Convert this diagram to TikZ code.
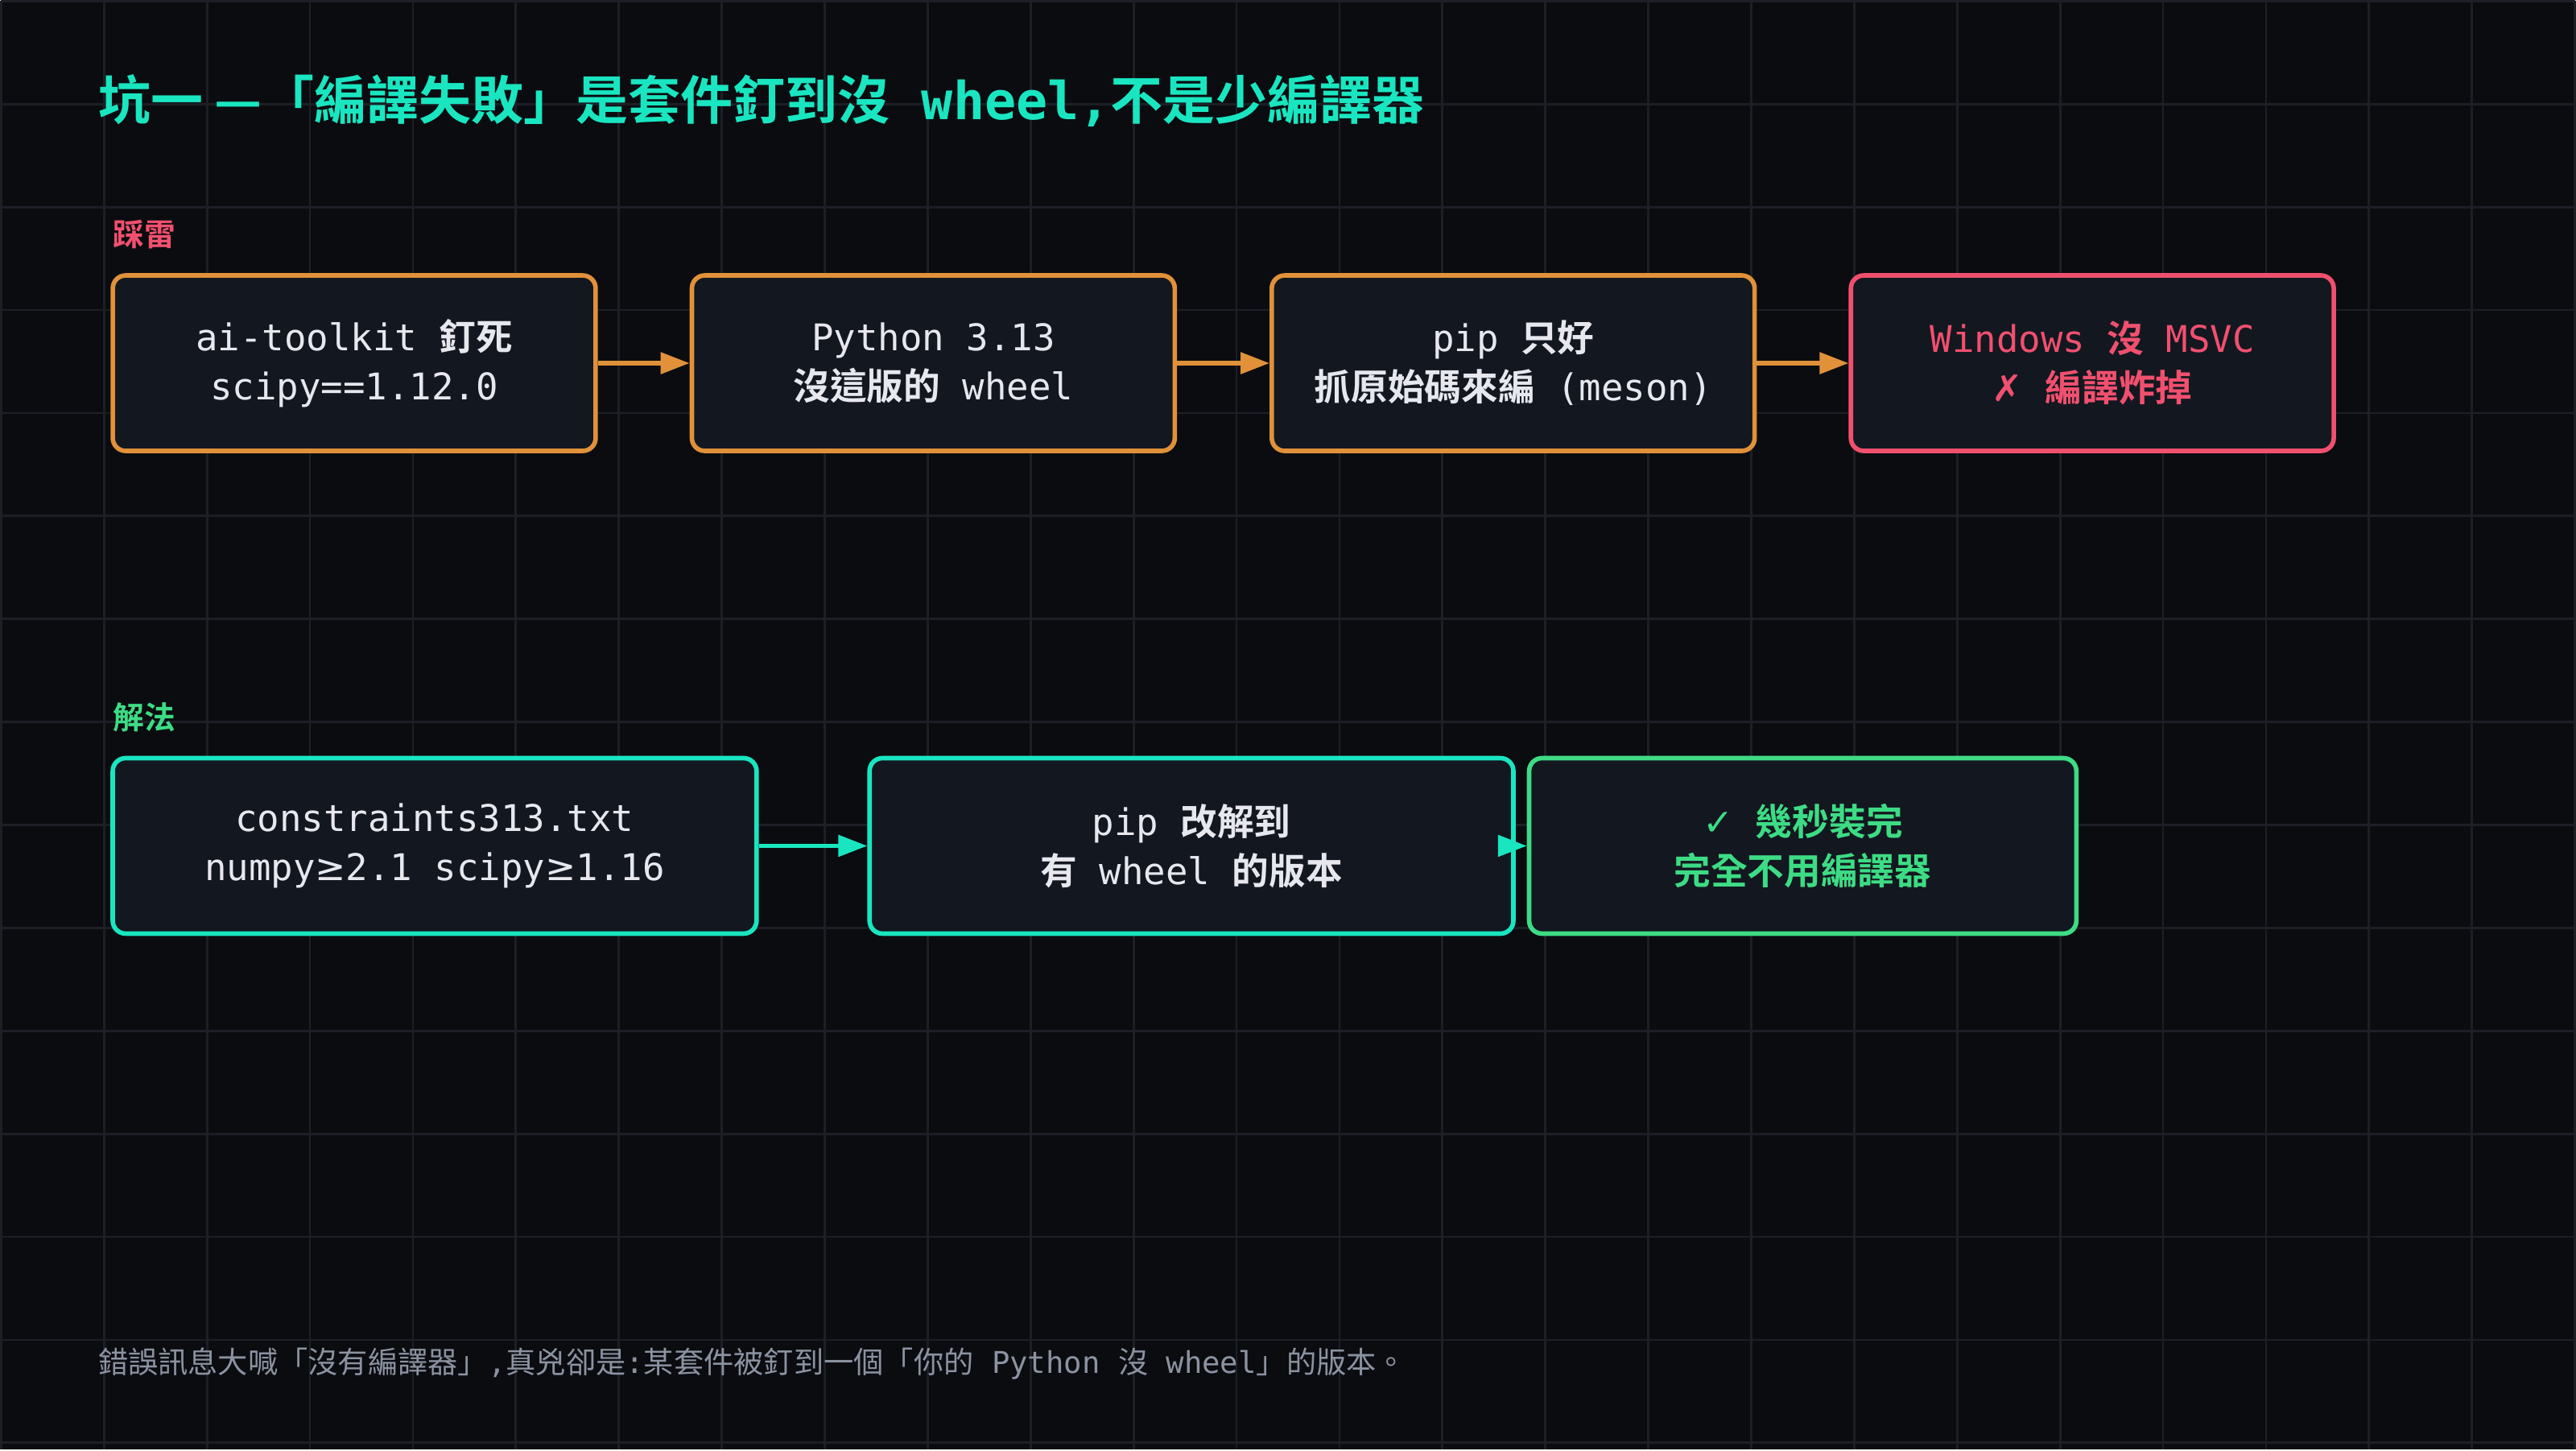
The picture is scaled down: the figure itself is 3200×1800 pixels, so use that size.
\documentclass[tikz,border=0pt]{standalone}
\usepackage{fontspec}
\setmainfont{DejaVu Sans Mono}
\newfontfamily\cjk{Noto Sans CJK TC}[BoldFont={* Bold}]
\newfontfamily\sym{DejaVu Sans}
\newcommand{\C}[1]{{\cjk\bfseries #1}}
\newcommand{\Cr}[1]{{\cjk #1}}
\definecolor{bg}{HTML}{0B0C10}
\definecolor{gridc}{HTML}{1C1F26}
\definecolor{boxf}{HTML}{131720}
\definecolor{org}{HTML}{E0913A}
\definecolor{redc}{HTML}{F0506E}
\definecolor{teal}{HTML}{19E6C1}
\definecolor{grn}{HTML}{3DDC84}
\definecolor{txt}{HTML}{E6E8EE}
\definecolor{gray}{HTML}{8B93A1}
\usetikzlibrary{arrows.meta}
\begin{document}
\begin{tikzpicture}[x=0.01cm,y=-0.01cm,
  box/.style={draw,line width=1.6pt,fill=boxf,rounded corners=0.16cm,minimum height=2.18cm,align=center,text=txt,font=\fontsize{13}{17.4}\selectfont,inner sep=0pt},
  arr/.style={line width=1.6pt,-{Triangle[length=0.36cm,width=0.26cm]}}]
\fill[bg] (0,0) rectangle (3200,1800);
\foreach \i in {0,...,25} \draw[gridc,line width=0.8pt] (\i*128,0) -- (\i*128,1800);
\foreach \j in {0,...,14} \draw[gridc,line width=0.8pt] (0,\j*128) -- (3200,\j*128);
\node[anchor=west,text=teal,font=\fontsize{18.5}{20}\selectfont\bfseries,inner sep=0] (title) at (120,124)
 {\C{坑一 —「編譯失敗」是套件釘到沒} wheel,\C{不是少編譯器}};
\node[anchor=west,text=redc,font=\fontsize{11}{12}\selectfont,inner sep=0] (l1) at (139,290) {\C{踩雷}};
\node[anchor=west,text=grn,font=\fontsize{11}{12}\selectfont,inner sep=0] (l2) at (139,890) {\C{解法}};
\node[box,draw=org,minimum width=6cm] (a1) at (439,450) {ai-toolkit \C{釘死}\\scipy==1.12.0};
\node[box,draw=org,minimum width=6cm] (a2) at (1159,450) {Python 3.13\\\C{沒這版的} wheel};
\node[box,draw=org,minimum width=6cm] (a3) at (1880,450) {pip \C{只好}\\\C{抓原始碼來編} (meson)};
\node[box,draw=redc,text=redc,minimum width=6cm] (a4) at (2600,450) {Windows \C{沒} MSVC\\{\sym ✗} \C{編譯炸掉}};
\draw[arr,org] (a1.east) -- (a2.west);
\draw[arr,org] (a2.east) -- (a3.west);
\draw[arr,org] (a3.east) -- (a4.west);
\node[box,draw=teal,minimum width=8cm] (b1) at (539,1050) {constraints313.txt\\numpy{\sym ≥}2.1 scipy{\sym ≥}1.16};
\node[box,draw=teal,minimum width=8cm] (b2) at (1480,1050) {pip \C{改解到}\\\C{有} wheel \C{的版本}};
\node[box,draw=grn,text=grn,minimum width=6.8cm] (b3) at (2240,1050) {{\sym ✓} \C{幾秒裝完}\\\C{完全不用編譯器}};
\draw[arr,teal] (b1.east) -- (b2.west);
\draw[arr,teal] (b2.east) -- (b3.west);
\node[anchor=west,text=gray,font=\fontsize{10.6}{12}\selectfont,inner sep=0] (foot) at (120,1694)
 {\Cr{錯誤訊息大喊「沒有編譯器」},\Cr{真兇卻是}:\Cr{某套件被釘到一個「你的} Python \Cr{沒} wheel\Cr{」的版本。}};
\end{tikzpicture}
\end{document}
